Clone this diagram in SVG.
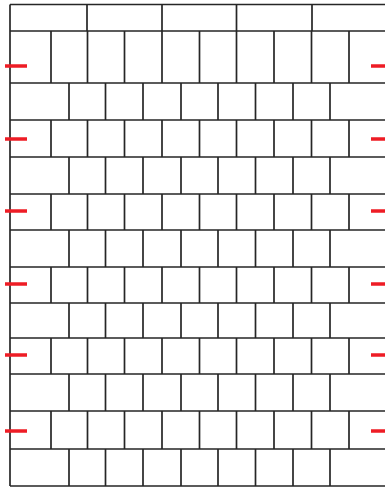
<svg xmlns="http://www.w3.org/2000/svg" width="385" height="488" viewBox="0 0 385 488">
<style>
.g{stroke:#262626;stroke-width:1.7;fill:none}
.r{stroke:#ee1c25;stroke-width:3.5;fill:none}
</style>
<rect width="385" height="488" fill="#fff"/>
<g id="rows" class="g">
<path d="M10 4.5H385M10 31H385M10 83H385M10 120H385M10 157H385M10 194H385M10 230H385M10 267H385M10 303H385M10 338H385M10 374H385M10 411H385M10 449H385M10 486H385"/>
<path d="M10 4.5V486"/>
</g>
<g id="header" class="g">
<path d="M87 4.5V31M162 4.5V31M236.5 4.5V31M312 4.5V31"/>
</g>
<g id="rowsA" class="g">
<path d="M51 31V83M87.5 31V83M124.5 31V83M162 31V83M199.5 31V83M236.5 31V83M274 31V83M311.5 31V83M349 31V83"/>
<path d="M51 120V157M87.5 120V157M124.5 120V157M162 120V157M199.5 120V157M236.5 120V157M274 120V157M311.5 120V157M349 120V157"/>
<path d="M51 194V230M87.5 194V230M124.5 194V230M162 194V230M199.5 194V230M236.5 194V230M274 194V230M311.5 194V230M349 194V230"/>
<path d="M51 267V303M87.5 267V303M124.5 267V303M162 267V303M199.5 267V303M236.5 267V303M274 267V303M311.5 267V303M349 267V303"/>
<path d="M51 338V374M87.5 338V374M124.5 338V374M162 338V374M199.5 338V374M236.5 338V374M274 338V374M311.5 338V374M349 338V374"/>
<path d="M51 411V449M87.5 411V449M124.5 411V449M162 411V449M199.5 411V449M236.5 411V449M274 411V449M311.5 411V449M349 411V449"/>
</g>
<g id="rowsB" class="g">
<path d="M69 83V120M105.5 83V120M143 83V120M181 83V120M218 83V120M255.5 83V120M293 83V120M330 83V120"/>
<path d="M69 157V194M105.5 157V194M143 157V194M181 157V194M218 157V194M255.5 157V194M293 157V194M330 157V194"/>
<path d="M69 230V267M105.5 230V267M143 230V267M181 230V267M218 230V267M255.5 230V267M293 230V267M330 230V267"/>
<path d="M69 303V338M105.5 303V338M143 303V338M181 303V338M218 303V338M255.5 303V338M293 303V338M330 303V338"/>
<path d="M69 374V411M105.5 374V411M143 374V411M181 374V411M218 374V411M255.5 374V411M293 374V411M330 374V411"/>
<path d="M69 449V486M105.5 449V486M143 449V486M181 449V486M218 449V486M255.5 449V486M293 449V486M330 449V486"/>
</g>
<g id="marks" class="r">
<path d="M5 66H27M371 66H385M5 139H27M371 139H385M5 211H27M371 211H385M5 284H27M371 284H385M5 355H27M371 355H385M5 431H27M371 431H385"/>
</g>
</svg>
